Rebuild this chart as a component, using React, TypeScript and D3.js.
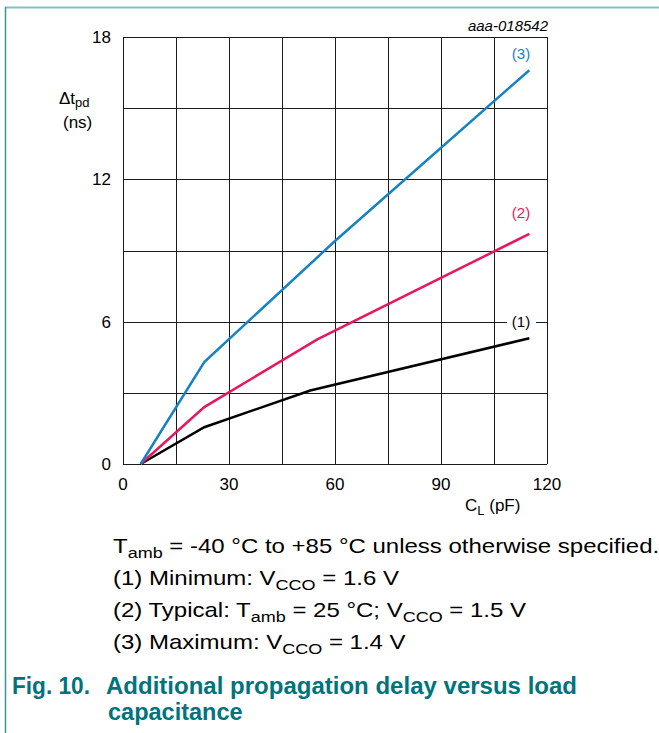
import React from 'react';
import * as d3 from 'd3';

// values (C_L in pF, delta t_pd in ns)
const minCurve: [number, number][] = [[5, 0], [23, 1.55], [53, 3.1], [115, 5.3]];
const typCurve: [number, number][] = [[5, 0], [23, 2.4], [55, 5.25], [115, 9.7]];
const maxCurve: [number, number][] = [[5, 0], [23, 4.3], [60, 9.4], [115, 16.6]];

const xTicks = [0, 30, 60, 90, 120];
const yTicks = [0, 6, 12, 18];
const xGrid = d3.range(0, 121, 15);
const yGrid = d3.range(0, 19, 3);

const notes = [
  { pre: 'T', sub: 'amb', post: ' = -40 °C to +85 °C unless otherwise specified.' },
  { pre: '(1) Minimum: V', sub: 'CCO', post: ' = 1.6 V' },
  { pre: '(2) Typical: T', sub: 'amb', post: ' = 25 °C; V', sub2: 'CCO', post2: ' = 1.5 V' },
  { pre: '(3) Maximum: V', sub: 'CCO', post: ' = 1.4 V' },
];

const BLUE = '#1482c5';
const RED = '#e8175d';
const TEAL = '#00737c';
const FONT = '"Liberation Sans", Arial, sans-serif';

export default function App() {
  const x = d3.scaleLinear().domain([0, 120]).range([123, 547]);
  const y = d3.scaleLinear().domain([0, 18]).range([464, 37]);
  const line = d3.line<[number, number]>().x(d => x(d[0])).y(d => y(d[1]));

  const series = [
    { data: minCurve, color: '#000', label: '(1)', lx: 521, ly: 6 },
    { data: typCurve, color: RED, label: '(2)', lx: 521, ly: 10.6 },
    { data: maxCurve, color: BLUE, label: '(3)', lx: 521, ly: 17.3 },
  ];

  return (
    <svg width={659} height={733} style={{ position: 'absolute', left: 0, top: 0, fontFamily: FONT }}>
      <rect width={659} height={733} fill="#fff" />
      <line x1={5} x2={659} y1={7.5} y2={7.5} stroke="#86c0c0" strokeWidth={2} />
      <line x1={5.5} x2={5.5} y1={7} y2={733} stroke="#3c9494" strokeWidth={1.5} />

      <text x={548} y={31} textAnchor="end" fontSize={15} fontStyle="italic">aaa-018542</text>

      <g stroke="#1a1a1a" strokeWidth={1}>
        {xGrid.map(v => (
          <line key={'gx' + v} x1={Math.round(x(v)) + 0.5} x2={Math.round(x(v)) + 0.5} y1={y(18)} y2={y(0)} />
        ))}
        {yGrid.map(v => (
          <line key={'gy' + v} x1={x(0)} x2={x(120)} y1={Math.round(y(v)) + 0.5} y2={Math.round(y(v)) + 0.5} />
        ))}
      </g>

      {yTicks.map(v => (
        <text key={'ty' + v} x={111} y={y(v) + 6} textAnchor="end" fontSize={17}>{v}</text>
      ))}
      {xTicks.map(v => (
        <text key={'tx' + v} x={x(v)} y={490} textAnchor="middle" fontSize={17}>{v}</text>
      ))}

      <text x={59} y={104} fontSize={17}>Δt<tspan fontSize={13} dy={3}>pd</tspan></text>
      <text x={63} y={128} fontSize={17}>(ns)</text>
      <text x={465} y={511} fontSize={17}>C<tspan fontSize={13} dy={4}>L</tspan><tspan dy={-4}> (pF)</tspan></text>

      {series.map(s => (
        <path key={s.label} d={line(s.data) ?? ''} fill="none" stroke={s.color} strokeWidth={2.5} />
      ))}

      <rect x={507} y={y(6) - 9} width={29} height={18} fill="#fff" />
      {series.map(s => (
        <text key={'l' + s.label} x={s.lx} y={y(s.ly) + 5} textAnchor="middle" fontSize={15} fill={s.color}>{s.label}</text>
      ))}

      {notes.map((n, i) => (
        <text key={'n' + i} transform={`translate(113, ${553 + i * 32}) scale(1.2, 1)`} fontSize={20}>
          {n.pre}
          <tspan fontSize={15} dy={5}>{n.sub}</tspan>
          <tspan dy={-5}>{n.post}</tspan>
          {n.sub2 && <tspan fontSize={15} dy={5}>{n.sub2}</tspan>}
          {n.post2 && <tspan dy={-5}>{n.post2}</tspan>}
        </text>
      ))}

      <text x={12} y={694} fontSize={23.5} fontWeight="bold" fill={TEAL} textLength={78} lengthAdjust="spacingAndGlyphs">Fig. 10.</text>
      <text x={106} y={694} fontSize={23.5} fontWeight="bold" fill={TEAL} textLength={471} lengthAdjust="spacingAndGlyphs">Additional propagation delay versus load</text>
      <text x={108} y={720} fontSize={23.5} fontWeight="bold" fill={TEAL}>capacitance</text>
    </svg>
  );
}
